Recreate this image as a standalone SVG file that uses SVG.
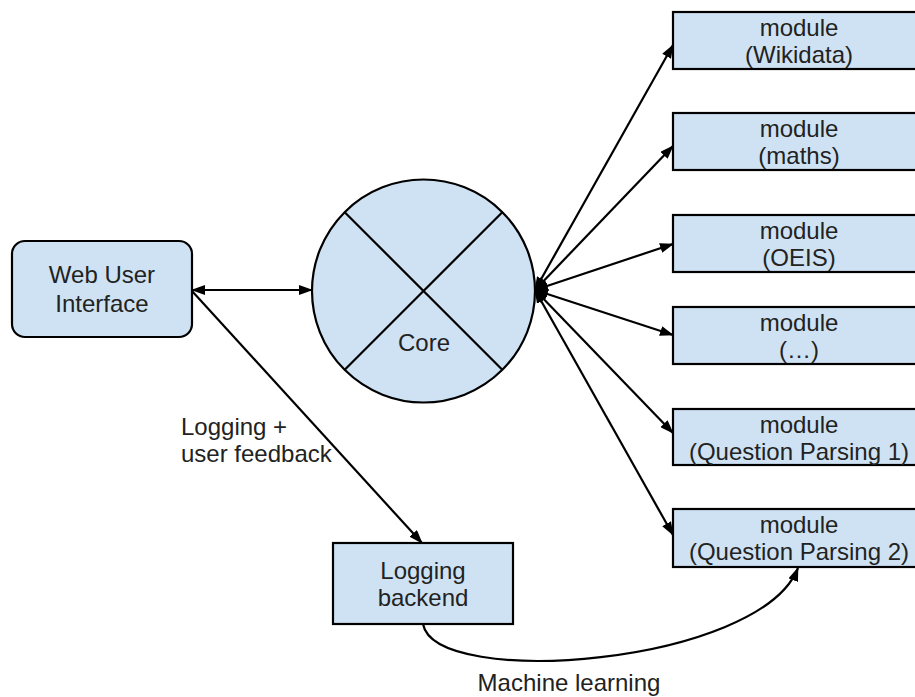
<svg xmlns="http://www.w3.org/2000/svg" width="915" height="697" viewBox="0 0 915 697">
  <style>
    .box { fill: #cfe2f3; stroke: #000; stroke-width: 2.2; }
    .lbl { font-family: "Liberation Sans", Arial, sans-serif; font-size: 24px; fill: #222; text-anchor: middle; }
    .free { font-family: "Liberation Sans", Arial, sans-serif; font-size: 24px; fill: #222; }
    .edge { fill: none; stroke: #000; stroke-width: 2.2; }
  </style>
  <defs>
    <marker id="arrow" viewBox="0 0 14 10" refX="13" refY="5" markerWidth="14" markerHeight="10" markerUnits="userSpaceOnUse" orient="auto-start-reverse">
      <path d="M0,0 L14,5 L0,10 Z" fill="#000"/>
    </marker>
  </defs>
  <rect width="915" height="697" fill="#fff"/>

  <g id="connectors">
    <line class="edge" x1="192" y1="290" x2="312" y2="290" marker-start="url(#arrow)" marker-end="url(#arrow)"/>
    <line class="edge" x1="192" y1="291" x2="422" y2="543" marker-end="url(#arrow)"/>
    <line class="edge" x1="535" y1="290" x2="673" y2="45" marker-start="url(#arrow)" marker-end="url(#arrow)"/>
    <line class="edge" x1="535" y1="290" x2="673" y2="146" marker-start="url(#arrow)" marker-end="url(#arrow)"/>
    <line class="edge" x1="535" y1="290" x2="673" y2="244" marker-start="url(#arrow)" marker-end="url(#arrow)"/>
    <line class="edge" x1="535" y1="290" x2="673" y2="335" marker-start="url(#arrow)" marker-end="url(#arrow)"/>
    <line class="edge" x1="535" y1="290" x2="673" y2="433" marker-start="url(#arrow)" marker-end="url(#arrow)"/>
    <line class="edge" x1="535" y1="290" x2="673" y2="535" marker-start="url(#arrow)" marker-end="url(#arrow)"/>
    <path class="edge" d="M423,624 C435,690 760,665 798,568" marker-end="url(#arrow)"/>
    <text class="lbl" x="569" y="691">Machine learning</text>
    <text class="free" x="181" y="435">Logging +</text>
    <text class="free" x="181" y="462">user feedback</text>
  </g>

  <g id="web-ui">
    <rect class="box" x="12" y="241" width="180" height="96" rx="13" ry="13"/>
    <text class="lbl" x="102" y="283">Web User</text>
    <text class="lbl" x="102" y="312">Interface</text>
  </g>

  <g id="core">
    <circle class="box" cx="423.5" cy="291" r="111.5"/>
    <line class="edge" x1="344.7" y1="212.2" x2="502.3" y2="369.8"/>
    <line class="edge" x1="502.3" y1="212.2" x2="344.7" y2="369.8"/>
    <text class="lbl" x="424" y="351">Core</text>
  </g>

  <g id="logging-backend">
    <rect class="box" x="333" y="543" width="180" height="81"/>
    <text class="lbl" x="423" y="579">Logging</text>
    <text class="lbl" x="423" y="606">backend</text>
  </g>

  <g id="module-wikidata">
    <rect class="box" x="673" y="12" width="250" height="57"/>
    <text class="lbl" x="799" y="36">module</text>
    <text class="lbl" x="799" y="63">(Wikidata)</text>
  </g>

  <g id="module-maths">
    <rect class="box" x="673" y="113" width="250" height="57"/>
    <text class="lbl" x="799" y="137">module</text>
    <text class="lbl" x="799" y="164">(maths)</text>
  </g>

  <g id="module-oeis">
    <rect class="box" x="673" y="215" width="250" height="57"/>
    <text class="lbl" x="799" y="239">module</text>
    <text class="lbl" x="799" y="266">(OEIS)</text>
  </g>

  <g id="module-more">
    <rect class="box" x="673" y="307" width="250" height="57"/>
    <text class="lbl" x="799" y="331">module</text>
    <text class="lbl" x="799" y="358">(…)</text>
  </g>

  <g id="module-qp1">
    <rect class="box" x="673" y="409" width="250" height="56"/>
    <text class="lbl" x="799" y="433">module</text>
    <text class="lbl" x="799" y="460">(Question Parsing 1)</text>
  </g>

  <g id="module-qp2">
    <rect class="box" x="673" y="509" width="250" height="58"/>
    <text class="lbl" x="799" y="533">module</text>
    <text class="lbl" x="799" y="560">(Question Parsing 2)</text>
  </g>
</svg>
